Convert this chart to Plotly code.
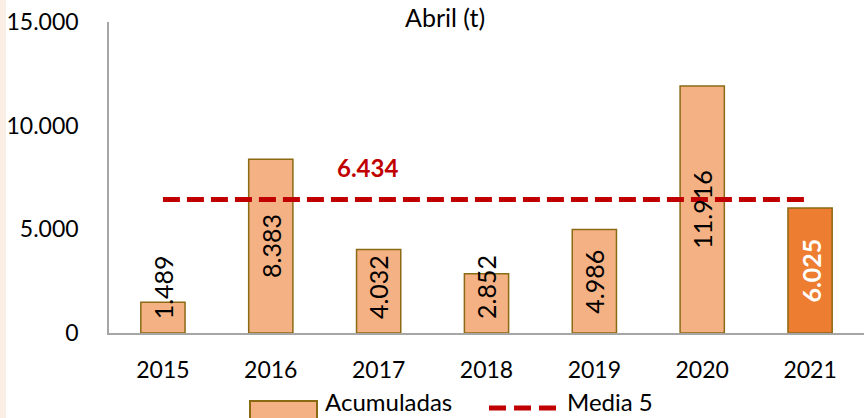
import plotly.graph_objects as go

# Chart data
years = ["2015", "2016", "2017", "2018", "2019", "2020", "2021"]
acumuladas = [1489, 8383, 4032, 2852, 4986, 11916, 6025]
media_5 = 6434
labels = ["1.489", "8.383", "4.032", "2.852", "4.986", "11.916", "6.025"]

font_name = "Lato"
bar_colors = ["#F4B183"] * 6 + ["#ED7D31"]
bar_edge = "#8B6A14"
line_red = "#C00000"

# plot area in pixels (used for paper-coordinate helpers)
L, R, T, B = 109, 864, 22, 333


def px_x(p):
    return (p - L) / (R - L)


def px_y(p):
    return (B - p) / (B - T)


fig = go.Figure()

# Bars
fig.add_trace(go.Bar(
    x=years, y=acumuladas, name="Acumuladas",
    marker=dict(color=bar_colors, line=dict(color=bar_edge, width=1.5)),
    width=0.41, hoverinfo="skip", showlegend=False,
))

# Average line
fig.add_trace(go.Scatter(
    x=years, y=[media_5] * len(years), name="Media 5", mode="lines",
    line=dict(color=line_red, width=5, dash="17px,7px"), hoverinfo="skip",
    showlegend=False,
))

# Rotated value labels inside the bars (x as category index, numeric-looking
# category names would be read as indices)
for i, (v, lab) in enumerate(zip(acumuladas, labels)):
    last = i == len(years) - 1
    fig.add_annotation(
        x=i, y=max(v / 2, 2200), text=f"<b>{lab}</b>" if last else lab,
        textangle=-90, showarrow=False,
        font=dict(family=font_name, size=25, color="white" if last else "black"),
    )

# Average value label
fig.add_annotation(
    xref="paper", yref="paper", x=px_x(367), y=px_y(167),
    text="<b>6.434</b>", showarrow=False, yanchor="middle",
    font=dict(family=font_name, size=24, color=line_red),
)

# Title
fig.add_annotation(
    xref="paper", yref="paper", x=px_x(445), y=px_y(17),
    text="Abril (t)", showarrow=False, yanchor="middle",
    font=dict(family=font_name, size=25, color="black"),
)

# Left peach strip
fig.add_shape(
    type="rect", xref="paper", yref="paper",
    x0=px_x(0), x1=px_x(6), y0=px_y(418), y1=px_y(0),
    fillcolor="#FBEFE5", line=dict(width=0), layer="below",
)

# Legend drawn by hand (wide bar swatch like the reference)
fig.add_shape(
    type="rect", xref="paper", yref="paper",
    x0=px_x(250), x1=px_x(317), y0=px_y(419), y1=px_y(401),
    fillcolor=bar_colors[0], line=dict(color=bar_edge, width=2),
)
fig.add_annotation(
    xref="paper", yref="paper", x=px_x(324), y=px_y(417),
    text="Acumuladas", showarrow=False, xanchor="left", yanchor="bottom",
    borderpad=0, font=dict(family=font_name, size=24, color="black"),
)
fig.add_shape(
    type="line", xref="paper", yref="paper",
    x0=px_x(489), x1=px_x(556), y0=px_y(408), y1=px_y(408),
    line=dict(color=line_red, width=5, dash="17px,8px"),
)
fig.add_annotation(
    xref="paper", yref="paper", x=px_x(566), y=px_y(417),
    text="Media 5", showarrow=False, xanchor="left", yanchor="bottom",
    borderpad=0, font=dict(family=font_name, size=24, color="black"),
)

fig.update_layout(
    width=864, height=418,
    margin=dict(l=L, r=864 - R, t=T, b=418 - B),
    paper_bgcolor="white", plot_bgcolor="white",
    separators=",.",
    showlegend=False,
    font=dict(family=font_name, color="black"),
)

fig.update_xaxes(
    type="category", categoryorder="array", categoryarray=years,
    range=[-0.5, len(years) - 0.5], automargin=False,
    showgrid=False, showline=True, linecolor="#A6A6A6", linewidth=1.5,
    ticks="", tickfont=dict(family=font_name, size=23, color="black"),
    ticklabelstandoff=16,
)
fig.update_yaxes(
    range=[0, 15000], tickvals=[0, 5000, 10000, 15000], tickformat=",d",
    automargin=False,
    showgrid=False, showline=True, linecolor="#A6A6A6", linewidth=1.5,
    zeroline=False, ticks="", tickfont=dict(family=font_name, size=23, color="black"),
    ticklabelstandoff=24,
)

# drop the browser's default 8px body margin so the figure fills the window
fig.write_html(
    "out.html",
    config={"displayModeBar": False},
    post_script="document.body.style.margin='0px';",
)
